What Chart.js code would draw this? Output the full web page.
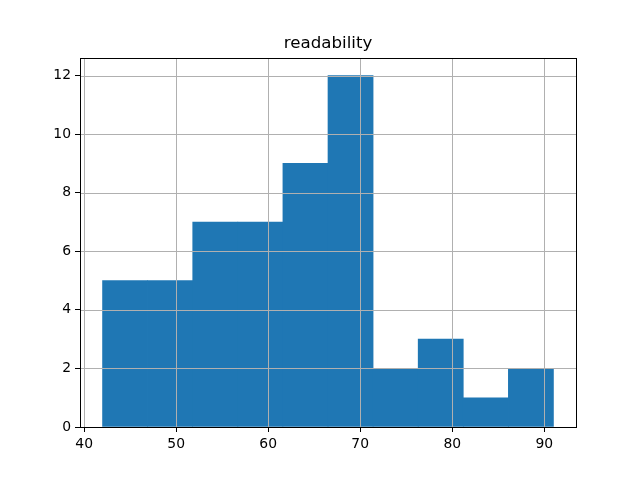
<!DOCTYPE html>
<html>
<head>
<meta charset="utf-8">
<script src="https://cdn.jsdelivr.net/npm/chart.js@4/dist/chart.umd.min.js"></script>
<style>
html,body{margin:0;padding:0;background:#fff;}
#wrap{width:640px;height:480px;}
</style>
</head>
<body>
<div id="wrap"><canvas id="c" width="640" height="480"></canvas></div>
<script>
const binEdges = [42, 46.9, 51.8, 56.7, 61.6, 66.5, 71.4, 76.3, 81.2, 86.1, 91];
const counts = [5, 5, 7, 7, 9, 12, 2, 3, 1, 2];
const xTicks = [40, 50, 60, 70, 80, 90];
const yTicks = [0, 2, 4, 6, 8, 10, 12];
const titleText = 'readability';

const span = binEdges[binEdges.length-1] - binEdges[0];
const xMin = binEdges[0] - 0.05*span, xMax = binEdges[binEdges.length-1] + 0.05*span;
const yMax = Math.max(...counts) * 1.05;

const FONT = 'DejaVu Sans';

const overlay = {
  id: 'overlay',
  afterDatasetsDraw(chart){
    const {ctx, chartArea:a, scales:{x,y}} = chart;
    ctx.save();
    ctx.strokeStyle = '#b0b0b0';
    ctx.lineWidth = 1;
    xTicks.forEach(v=>{
      const px = Math.round(x.getPixelForValue(v))+0.5;
      ctx.beginPath(); ctx.moveTo(px,a.top); ctx.lineTo(px,a.bottom); ctx.stroke();
    });
    yTicks.forEach(v=>{
      const py = Math.round(y.getPixelForValue(v))+0.5;
      ctx.beginPath(); ctx.moveTo(a.left,py); ctx.lineTo(a.right,py); ctx.stroke();
    });
    ctx.strokeStyle = '#000';
    ctx.lineWidth = 1;
    ctx.strokeRect(Math.round(a.left)+0.5, Math.round(a.top)+0.5, Math.round(a.right-a.left), Math.round(a.bottom-a.top));
    ctx.restore();
  }
};

new Chart(document.getElementById('c'), {
  type: 'bar',
  data: {
    datasets: [{
      data: counts.map((c,i)=>({x:(binEdges[i]+binEdges[i+1])/2, y:c})),
      backgroundColor: '#1f77b4',
      borderWidth: 0,
      barPercentage: 1.0,
      categoryPercentage: 1.0,
      grouped: false
    }]
  },
  options: {
    responsive: false,
    animation: false,
    devicePixelRatio: 1,
    layout: {padding: {left: 16, right: 0, top: 0, bottom: 0}},
    plugins: {
      legend: {display: false},
      tooltip: {enabled: false},
      title: {
        display: true, text: titleText, color: '#000',
        font: {family: FONT, size: 16.67, weight: 'normal', lineHeight: 1.2},
        padding: {top: 34, bottom: 4}
      }
    },
    scales: {
      x: {
        type: 'linear', min: xMin, max: xMax, offset: false,
        afterBuildTicks(s){ s.ticks = xTicks.map(v=>({value:v})); },
        afterFit(s){ s.height = 53; },
        grid: {offset: false, drawOnChartArea: false, drawTicks: true, tickLength: 5, tickColor: '#000', tickWidth: 1, color: '#000'},
        border: {display: false},
        ticks: {color: '#000', padding: 4, maxRotation: 0, autoSkip: false, font: {family: FONT, size: 13.9}, callback: v=>String(v)}
      },
      y: {
        type: 'linear', min: 0, max: yMax,
        afterBuildTicks(s){ s.ticks = yTicks.map(v=>({value:v})); },
        afterFit(s){ s.width = 64; },
        grid: {drawOnChartArea: false, drawTicks: true, tickLength: 5, tickColor: '#000', tickWidth: 1, color: '#000'},
        border: {display: false},
        ticks: {color: '#000', padding: 4, autoSkip: false, font: {family: FONT, size: 13.9}, callback: v=>String(v)}
      },
      yR: {
        type: 'linear', position: 'right', min: 0, max: 1,
        afterFit(s){ s.width = 64; },
        grid: {drawOnChartArea: false, drawTicks: false},
        border: {display: false},
        ticks: {display: false}
      }
    }
  },
  plugins: [overlay]
});
</script>
</body>
</html>
